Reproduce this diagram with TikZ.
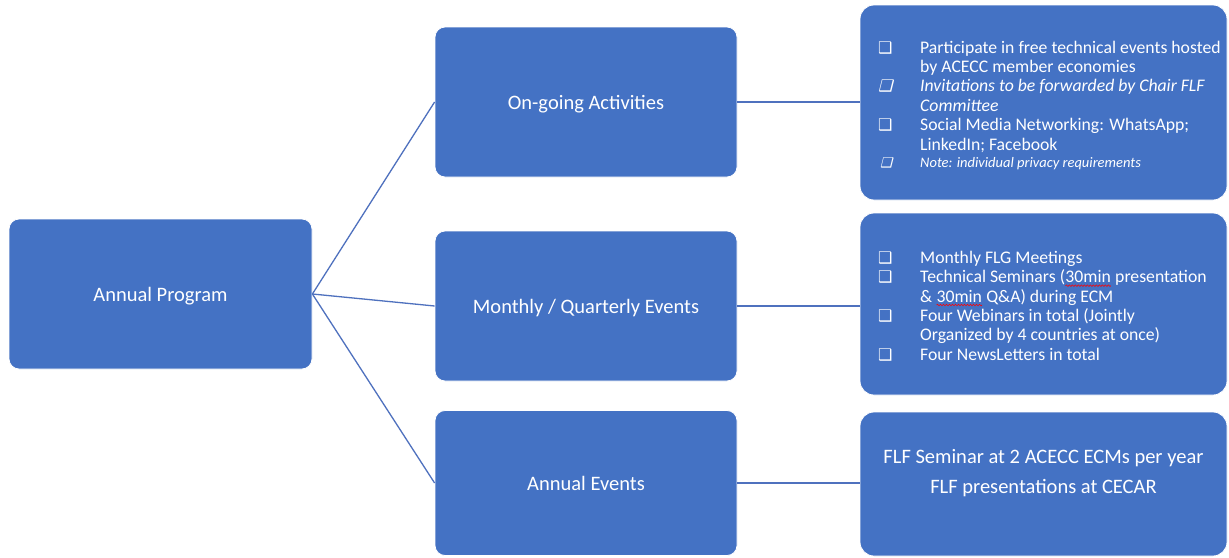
\documentclass[tikz,border=0pt]{standalone}
\usepackage{fontspec}
\setmainfont{Carlito}
\newfontfamily\bulfont{DejaVu Sans Bold}
\newfontfamily\bulfontit{DejaVu Sans Bold}[FakeSlant=0.25]
\usetikzlibrary{decorations.pathmorphing}
\definecolor{boxblue}{HTML}{4472C4}
\definecolor{linkblue}{RGB}{79,113,190}
\newcommand\bul{{\bulfont\fontsize{16}{16}\selectfont ❑}}
\newcommand\bulit{{\bulfontit\fontsize{16}{16}\selectfont ❑}}
\newcommand\bulsm{{\bulfontit\fontsize{13.5}{13.5}\selectfont\hspace{2pt}❑}}
\newcommand\bitem[2]{\par\noindent\hangindent=42pt\hangafter=1\makebox[42pt][l]{#1}{#2}\par}
\newcommand\spellerr[1]{\tikz[baseline=(w.base)]{\node[inner sep=0pt, outer sep=0pt] (w) {#1};
  \draw[red, line width=0.6pt, decorate, decoration={snake, amplitude=0.8pt, segment length=3pt}]
    ([yshift=-3pt]w.base west) -- ([yshift=-3pt]w.base east);}}
\begin{document}
\begin{tikzpicture}[x=1pt,y=-1pt,
  box/.style={draw=white, line width=0.8pt, fill=boxblue, rounded corners=10pt,
    text=white, font=\fontsize{20.5}{24}\selectfont, inner sep=0pt},
  rbox/.style={box, rounded corners=14pt},
  link/.style={draw=linkblue, line width=1.3pt},
  listtext/.style={text=white, inner sep=0pt, anchor=base west}]
\useasboundingbox[fill=white] (0,0) rectangle (1229,557);
% left column
\node[box, minimum width=303pt, minimum height=150pt, text depth=-2pt] (ap) at (160.5,294) {Annual Program};
% middle column
\node[box, minimum width=302pt, minimum height=150pt, text depth=-2pt] (og) at (586,102) {On-going Activities};
\node[box, minimum width=302pt, minimum height=150pt, text depth=-2pt] (mq) at (586,306) {Monthly / Quarterly Events};
\node[box, minimum width=302pt, minimum height=145pt, text depth=-2pt] (ae) at (586,483) {Annual Events};
% right column
\node[rbox, minimum width=367pt, minimum height=195pt] (r1) at (1043.5,102.5) {};
\node[rbox, minimum width=367pt, minimum height=182pt] (r2) at (1043.5,304) {};
\node[rbox, minimum width=367pt, minimum height=144pt] (r3) at (1043.5,484) {};
% connectors
\draw[link] (ap.east) -- (og.west);
\draw[link] (ap.east) -- (mq.west);
\draw[link] (ap.east) -- (ae.west);
\draw[link] (og.east) -- (og.east -| r1.west);
\draw[link] (mq.east) -- (mq.east -| r2.west);
\draw[link] (ae.east) -- (ae.east -| r3.west);
% list texts
\node[listtext] (r1t) at (878,53) {\parbox[t]{350pt}{\fontsize{17.7}{19.4}\selectfont\raggedright
\bitem{\bul}{Participate in free technical events hosted\newline by ACECC member economies}
\bitem{\bulit}{\itshape Invitations to be forwarded by Chair FLF\newline Committee}
\bitem{\bul}{Social Media Networking: WhatsApp;\newline LinkedIn; Facebook}
\vspace{-2pt}
\bitem{\bulsm}{\fontsize{14.5}{15}\selectfont\itshape Note: individual privacy requirements}}};
\node[listtext] (r2t) at (878,263.3) {\parbox[t]{350pt}{\fontsize{17.7}{19.35}\selectfont\raggedright
\bitem{\bul}{Monthly FLG Meetings}
\bitem{\bul}{Technical Seminars (\spellerr{30min} presentation\newline \& \spellerr{30min} Q\&A) during ECM}
\bitem{\bul}{Four Webinars in total (Jointly\newline Organized by 4 countries at once)}
\bitem{\bul}{Four NewsLetters in total}}};
\node[text=white, inner sep=0pt, anchor=base] (r3t) at (1043.5,463) {\parbox[t]{360pt}{\centering\fontsize{20.5}{30}\selectfont
FLF Seminar at 2 ACECC ECMs per year\\FLF presentations at CECAR}};
\end{tikzpicture}
\end{document}
